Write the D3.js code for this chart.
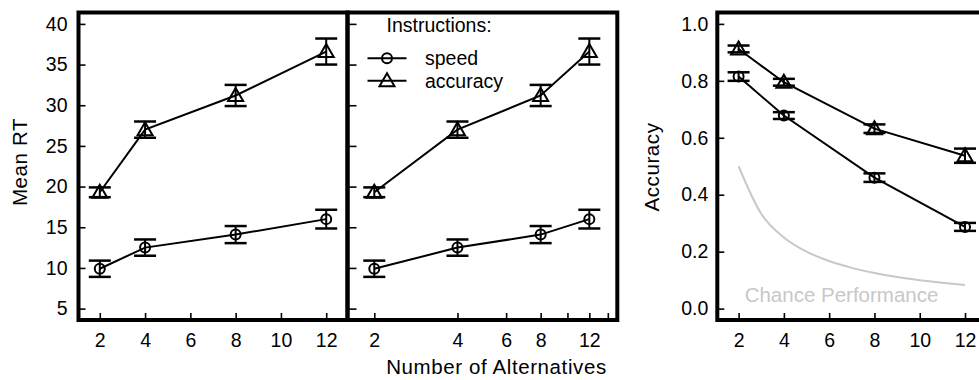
<!DOCTYPE html>
<html>
<head>
<meta charset="utf-8">
<script src="https://cdn.jsdelivr.net/npm/d3@7"></script>
<style>
  body { margin: 0; background: #fff; }
  svg text { font-family: "Liberation Sans", Arial, sans-serif; }
</style>
</head>
<body>
<div id="chart"></div>
<script>
// data
const alternatives = [2, 4, 8, 12];
const rtSpeed = [9.9, 12.5, 14.1, 16.0];
const rtSpeedErr = [1.0, 1.0, 1.05, 1.15];
const rtAccuracy = [19.3, 27.0, 31.2, 36.6];
const rtAccuracyErr = [0.6, 1.0, 1.3, 1.6];
const accSpeed = [0.815, 0.678, 0.46, 0.287];
const accSpeedErr = [0.015, 0.012, 0.015, 0.014];
const accAccuracy = [0.912, 0.795, 0.632, 0.537];
const accAccuracyErr = [0.012, 0.012, 0.015, 0.025];
const chanceX = [2, 3, 4, 5, 6, 7, 8, 9, 10, 11, 12];
const chanceY = [0.5, 0.333, 0.25, 0.2, 0.167, 0.143, 0.125, 0.111, 0.1, 0.091, 0.083];

const linTicks = [2, 4, 6, 8, 10, 12];
const logTicks = [2, 4, 6, 8, 10, 12, 14];
const logTickLabels = ['2', '4', '6', '8', '', '12', ''];
const rtTicks = [5, 10, 15, 20, 25, 30, 35, 40];
const accTicks = [0, 0.2, 0.4, 0.6, 0.8, 1.0];

const width = 979, height = 380;
const plotTop = 12.5, plotBottom = 320;
const fontSize = 19.5;
const titleSize = 20.5;

const svg = d3.select('#chart').append('svg')
  .attr('width', width)
  .attr('height', height);

const yRT = d3.scaleLinear().domain([3.6, 41.4]).range([plotBottom, plotTop]);
const yAcc = d3.scaleLinear().domain([-0.04, 1.04]).range([plotBottom, plotTop]);
const xLeft = d3.scaleLinear().domain([1.06, 12.94]).range([78.5, 347.5]);
const xMid = d3.scaleLog().domain([1.6, 15.15]).range([347.5, 617.3]);
const xRight = d3.scaleLinear().domain([1.06, 12.94]).range([717.3, 986.3]);

function styleAxis(g) {
  g.select('.domain').remove();
  g.selectAll('.tick line').attr('stroke', '#000').attr('stroke-width', 1.6);
  g.selectAll('.tick text')
    .attr('fill', '#000')
    .attr('font-size', fontSize)
    .attr('font-family', '"Liberation Sans", Arial, sans-serif');
}

function drawSeries(x, y, vals, errs, shape) {
  const g = svg.append('g');
  const pts = alternatives.map((a, i) => ({ a: a, v: vals[i], e: errs[i] }));
  g.append('path')
    .datum(pts)
    .attr('fill', 'none')
    .attr('stroke', '#000')
    .attr('stroke-width', 2)
    .attr('d', d3.line().x(d => x(d.a)).y(d => y(d.v)));
  // error bars
  pts.forEach(d => {
    const cx = x(d.a);
    g.append('line')
      .attr('x1', cx).attr('x2', cx)
      .attr('y1', y(d.v - d.e)).attr('y2', y(d.v + d.e))
      .attr('stroke', '#000').attr('stroke-width', 2);
    [d.v - d.e, d.v + d.e].forEach(v => {
      g.append('line')
        .attr('x1', cx - 11).attr('x2', cx + 11)
        .attr('y1', y(v)).attr('y2', y(v))
        .attr('stroke', '#000').attr('stroke-width', 2.5);
    });
  });
  // symbols
  pts.forEach(d => {
    drawSymbol(g, x(d.a), y(d.v), shape);
  });
}

function drawSymbol(g, cx, cy, shape) {
  if (shape === 'circle') {
    g.append('circle')
      .attr('cx', cx).attr('cy', cy).attr('r', 5)
      .attr('fill', 'none').attr('stroke', '#000').attr('stroke-width', 2);
  } else {
    g.append('path')
      .attr('d', `M${cx},${cy - 7.5} L${cx + 7.5},${cy + 5.5} L${cx - 7.5},${cy + 5.5} Z`)
      .attr('fill', 'none').attr('stroke', '#000').attr('stroke-width', 2);
  }
}

// --- left panel (linear x)
svg.append('g')
  .attr('transform', `translate(${xLeft.range()[0]},0)`)
  .call(d3.axisLeft(yRT).tickValues(rtTicks).tickSize(-7).tickPadding(11))
  .call(styleAxis);
svg.append('g')
  .attr('transform', `translate(0,${plotBottom})`)
  .call(d3.axisBottom(xLeft).tickValues(linTicks).tickSize(-7).tickPadding(13))
  .call(styleAxis);
drawSeries(xLeft, yRT, rtSpeed, rtSpeedErr, 'circle');
drawSeries(xLeft, yRT, rtAccuracy, rtAccuracyErr, 'triangle');

// --- middle panel (log x)
svg.append('g')
  .attr('transform', `translate(${xMid.range()[0]},0)`)
  .call(d3.axisLeft(yRT).tickValues(rtTicks).tickSize(-9).tickFormat(''))
  .call(styleAxis);
svg.append('g')
  .attr('transform', `translate(0,${plotBottom})`)
  .call(d3.axisBottom(xMid).tickValues(logTicks).tickSize(-7).tickPadding(13)
    .tickFormat((d, i) => logTickLabels[i]))
  .call(styleAxis);
drawSeries(xMid, yRT, rtSpeed, rtSpeedErr, 'circle');
drawSeries(xMid, yRT, rtAccuracy, rtAccuracyErr, 'triangle');

// --- right panel (accuracy)
svg.append('path')
  .datum(chanceX.map((c, i) => [c, chanceY[i]]))
  .attr('fill', 'none')
  .attr('stroke', '#c8c8c8')
  .attr('stroke-width', 2)
  .attr('d', d3.line().x(d => xRight(d[0])).y(d => yAcc(d[1])).curve(d3.curveMonotoneX));
svg.append('text')
  .attr('x', 841.5).attr('y', 302)
  .attr('text-anchor', 'middle')
  .attr('font-size', titleSize)
  .attr('fill', '#c8c8c8')
  .text('Chance Performance');
svg.append('g')
  .attr('transform', `translate(${xRight.range()[0]},0)`)
  .call(d3.axisLeft(yAcc).tickValues(accTicks).tickSize(-7).tickPadding(9)
    .tickFormat(d3.format('.1f')))
  .call(styleAxis);
svg.append('g')
  .attr('transform', `translate(0,${plotBottom})`)
  .call(d3.axisBottom(xRight).tickValues(linTicks).tickSize(-7).tickPadding(13))
  .call(styleAxis);
drawSeries(xRight, yAcc, accSpeed, accSpeedErr, 'circle');
drawSeries(xRight, yAcc, accAccuracy, accAccuracyErr, 'triangle');

// frames
[xLeft, xMid, xRight].forEach(x => {
  const r = x.range();
  svg.append('rect')
    .attr('x', r[0]).attr('y', plotTop)
    .attr('width', r[1] - r[0]).attr('height', plotBottom - plotTop)
    .attr('fill', 'none')
    .attr('stroke', '#000')
    .attr('stroke-width', 4);
});

// legend
const legend = svg.append('g');
legend.append('text')
  .attr('x', 386.5).attr('y', 32)
  .attr('font-size', fontSize)
  .text('Instructions:');
const legendItems = [['speed', 'circle', 58.3], ['accuracy', 'triangle', 80.7]];
legendItems.forEach(([label, shape, ly]) => {
  legend.append('line')
    .attr('x1', 367.5).attr('x2', 406.5)
    .attr('y1', ly).attr('y2', ly)
    .attr('stroke', '#000').attr('stroke-width', 2);
  drawSymbol(legend, 387, ly, shape);
  legend.append('text')
    .attr('x', 425).attr('y', ly)
    .attr('dy', '0.35em')
    .attr('font-size', fontSize)
    .text(label);
});

// axis titles
svg.append('text')
  .attr('transform', 'translate(20,162) rotate(-90)')
  .attr('text-anchor', 'middle')
  .attr('dy', '0.35em')
  .attr('font-size', titleSize)
  .attr('letter-spacing', 0.6)
  .text('Mean RT');
svg.append('text')
  .attr('transform', 'translate(652,167) rotate(-90)')
  .attr('text-anchor', 'middle')
  .attr('dy', '0.35em')
  .attr('font-size', titleSize)
  .attr('letter-spacing', 0.6)
  .text('Accuracy');
svg.append('text')
  .attr('x', 496.5).attr('y', 374)
  .attr('text-anchor', 'middle')
  .attr('font-size', titleSize)
  .attr('letter-spacing', 0.6)
  .text('Number of Alternatives');
</script>
</body>
</html>
